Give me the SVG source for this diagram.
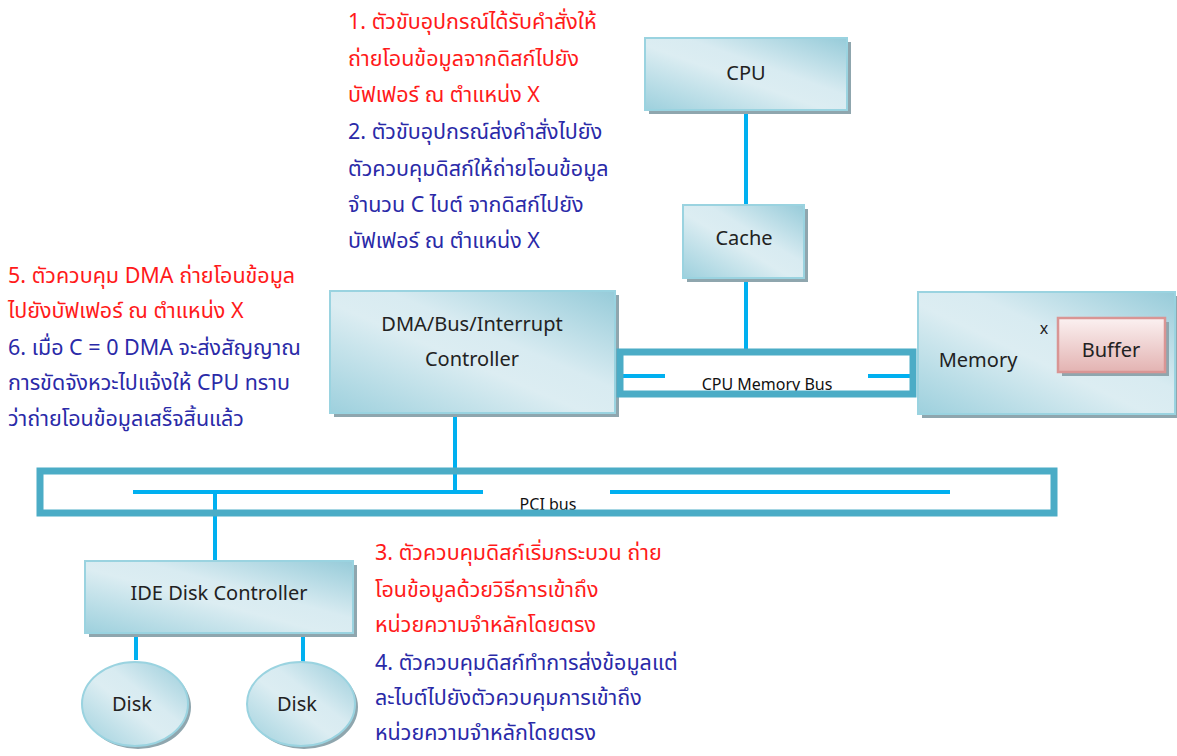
<svg xmlns="http://www.w3.org/2000/svg" width="1177" height="756" viewBox="0 0 1177 756">
<defs>
<linearGradient id="blue" x1="0" y1="1" x2="1" y2="0">
<stop offset="0" stop-color="#9dd0dd"/>
<stop offset="0.45" stop-color="#dcedf2"/>
<stop offset="0.6" stop-color="#d8ebf1"/>
<stop offset="1" stop-color="#96cbd9"/>
</linearGradient>
<linearGradient id="pink" x1="0" y1="0" x2="0" y2="1">
<stop offset="0" stop-color="#fbf1f1"/>
<stop offset="1" stop-color="#e3b3b2"/>
</linearGradient>
<style>
.box{fill:url(#blue);stroke:#9ad3e0;stroke-width:2}
.sh{fill:#8fa6ae}
.lbl{font-family:"Noto Sans","Open Sans","DejaVu Sans",sans-serif;font-size:20px;fill:#222;text-anchor:middle}
.bus{fill:none;stroke:#4bacc6;stroke-width:7}
.busl{font-family:"Noto Sans","Open Sans",sans-serif;font-size:16px;fill:#111;text-anchor:middle}
.con{stroke:#00b0f0;stroke-width:4;fill:none}
.note{font-family:"Noto Sans Thai","Noto Sans","DejaVu Sans",sans-serif;font-size:21.5px}
.red{fill:#ff1a1a}
.blu{fill:#2a2aa8}
</style>
</defs>

<g id="connectors">
<line class="con" x1="746" y1="110" x2="746" y2="206"/>
<line class="con" x1="746" y1="278" x2="746" y2="350"/>
<line class="con" x1="620" y1="376" x2="665" y2="376"/>
<line class="con" x1="868" y1="376" x2="914" y2="376"/>
<line class="con" x1="455" y1="413" x2="455" y2="492"/>
<line class="con" x1="133" y1="492" x2="483" y2="492"/>
<line class="con" x1="610" y1="492" x2="950" y2="492"/>
<line class="con" x1="215" y1="492" x2="215" y2="562"/>
<line class="con" x1="136" y1="628" x2="136" y2="660"/>
<line class="con" x1="303" y1="632" x2="303" y2="664"/>
</g>

<g id="cpu">
<rect class="sh" x="649" y="42" width="202" height="72"/>
<rect class="box" x="645" y="38" width="202" height="72"/>
<text class="lbl" x="746" y="80">CPU</text>
</g>

<g id="cache">
<rect class="sh" x="687" y="209" width="121" height="73"/>
<rect class="box" x="683" y="205" width="121" height="73"/>
<text class="lbl" x="744" y="245">Cache</text>
</g>

<g id="dma">
<rect class="sh" x="334" y="295" width="285" height="122"/>
<rect class="box" x="330" y="291" width="285" height="122"/>
<text class="lbl" x="472" y="331">DMA/Bus/Interrupt</text>
<text class="lbl" x="472" y="366">Controller</text>
</g>

<g id="cpu-memory-bus">
<rect x="620" y="352" width="293" height="42" fill="#fff"/>
<line class="con" x1="620" y1="376" x2="665" y2="376"/>
<line class="con" x1="868" y1="376" x2="914" y2="376"/>
<text class="busl" x="767" y="390">CPU Memory Bus</text>
<rect class="bus" x="620" y="352" width="293" height="42"/>
</g>

<g id="memory">
<rect class="sh" x="922" y="296" width="257" height="122"/>
<rect class="box" x="918" y="292" width="257" height="122"/>
<text class="lbl" x="978" y="367">Memory</text>
<text class="lbl" x="1044" y="334" style="font-size:16px">x</text>
</g>

<g id="buffer">
<rect class="sh" x="1062" y="322" width="107" height="54"/>
<rect x="1058" y="318" width="107" height="54" fill="url(#pink)" stroke="#d99594" stroke-width="2.5"/>
<text class="lbl" x="1111" y="357">Buffer</text>
</g>

<g id="pci-bus">
<rect x="40" y="471" width="1014" height="42" fill="#fff"/>
<line class="con" x1="133" y1="492" x2="483" y2="492"/>
<line class="con" x1="610" y1="492" x2="950" y2="492"/>
<line class="con" x1="455" y1="471" x2="455" y2="492"/>
<line class="con" x1="215" y1="492" x2="215" y2="513"/>
<text class="busl" x="548" y="510">PCI bus</text>
<rect class="bus" x="40" y="471" width="1014" height="42"/>
</g>

<g id="ide">
<rect class="sh" x="89" y="565" width="268" height="72"/>
<rect class="box" x="85" y="561" width="268" height="72"/>
<text class="lbl" x="219" y="600">IDE Disk Controller</text>
</g>

<g id="disk1">
<ellipse class="sh" cx="138" cy="707" rx="53" ry="42"/>
<ellipse class="box" cx="135" cy="704" rx="53" ry="42"/>
<text class="lbl" x="132" y="711">Disk</text>
</g>

<g id="disk2">
<ellipse class="sh" cx="304" cy="707" rx="54" ry="42"/>
<ellipse class="box" cx="301" cy="704" rx="54" ry="42"/>
<text class="lbl" x="297" y="711">Disk</text>
</g>

<g id="note-1-2" class="note">
<text class="red" x="348" y="29">1. ตัวขับอุปกรณ์ได้รับคำสั่งให้</text>
<text class="red" x="348" y="66">ถ่ายโอนข้อมูลจากดิสก์ไปยัง</text>
<text class="red" x="348" y="102">บัฟเฟอร์ ณ ตำแหน่ง X</text>
<text class="blu" x="348" y="139">2. ตัวขับอุปกรณ์ส่งคำสั่งไปยัง</text>
<text class="blu" x="348" y="176">ตัวควบคุมดิสก์ให้ถ่ายโอนข้อมูล</text>
<text class="blu" x="348" y="212">จำนวน C ไบต์ จากดิสก์ไปยัง</text>
<text class="blu" x="348" y="248">บัฟเฟอร์ ณ ตำแหน่ง X</text>
</g>

<g id="note-5-6" class="note">
<text class="red" x="8" y="283">5. ตัวควบคุม DMA ถ่ายโอนข้อมูล</text>
<text class="red" x="8" y="318">ไปยังบัฟเฟอร์ ณ ตำแหน่ง X</text>
<text class="blu" x="8" y="355">6. เมื่อ C = 0 DMA จะส่งสัญญาณ</text>
<text class="blu" x="8" y="390">การขัดจังหวะไปแจ้งให้ CPU ทราบ</text>
<text class="blu" x="8" y="426">ว่าถ่ายโอนข้อมูลเสร็จสิ้นแล้ว</text>
</g>

<g id="note-3-4" class="note">
<text class="red" x="375" y="560">3. ตัวควบคุมดิสก์เริ่มกระบวน ถ่าย</text>
<text class="red" x="375" y="597">โอนข้อมูลด้วยวิธีการเข้าถึง</text>
<text class="red" x="375" y="632">หน่วยความจำหลักโดยตรง</text>
<text class="blu" x="375" y="670">4. ตัวควบคุมดิสก์ทำการส่งข้อมูลแต่</text>
<text class="blu" x="375" y="705">ละไบต์ไปยังตัวควบคุมการเข้าถึง</text>
<text class="blu" x="375" y="740">หน่วยความจำหลักโดยตรง</text>
</g>
</svg>
